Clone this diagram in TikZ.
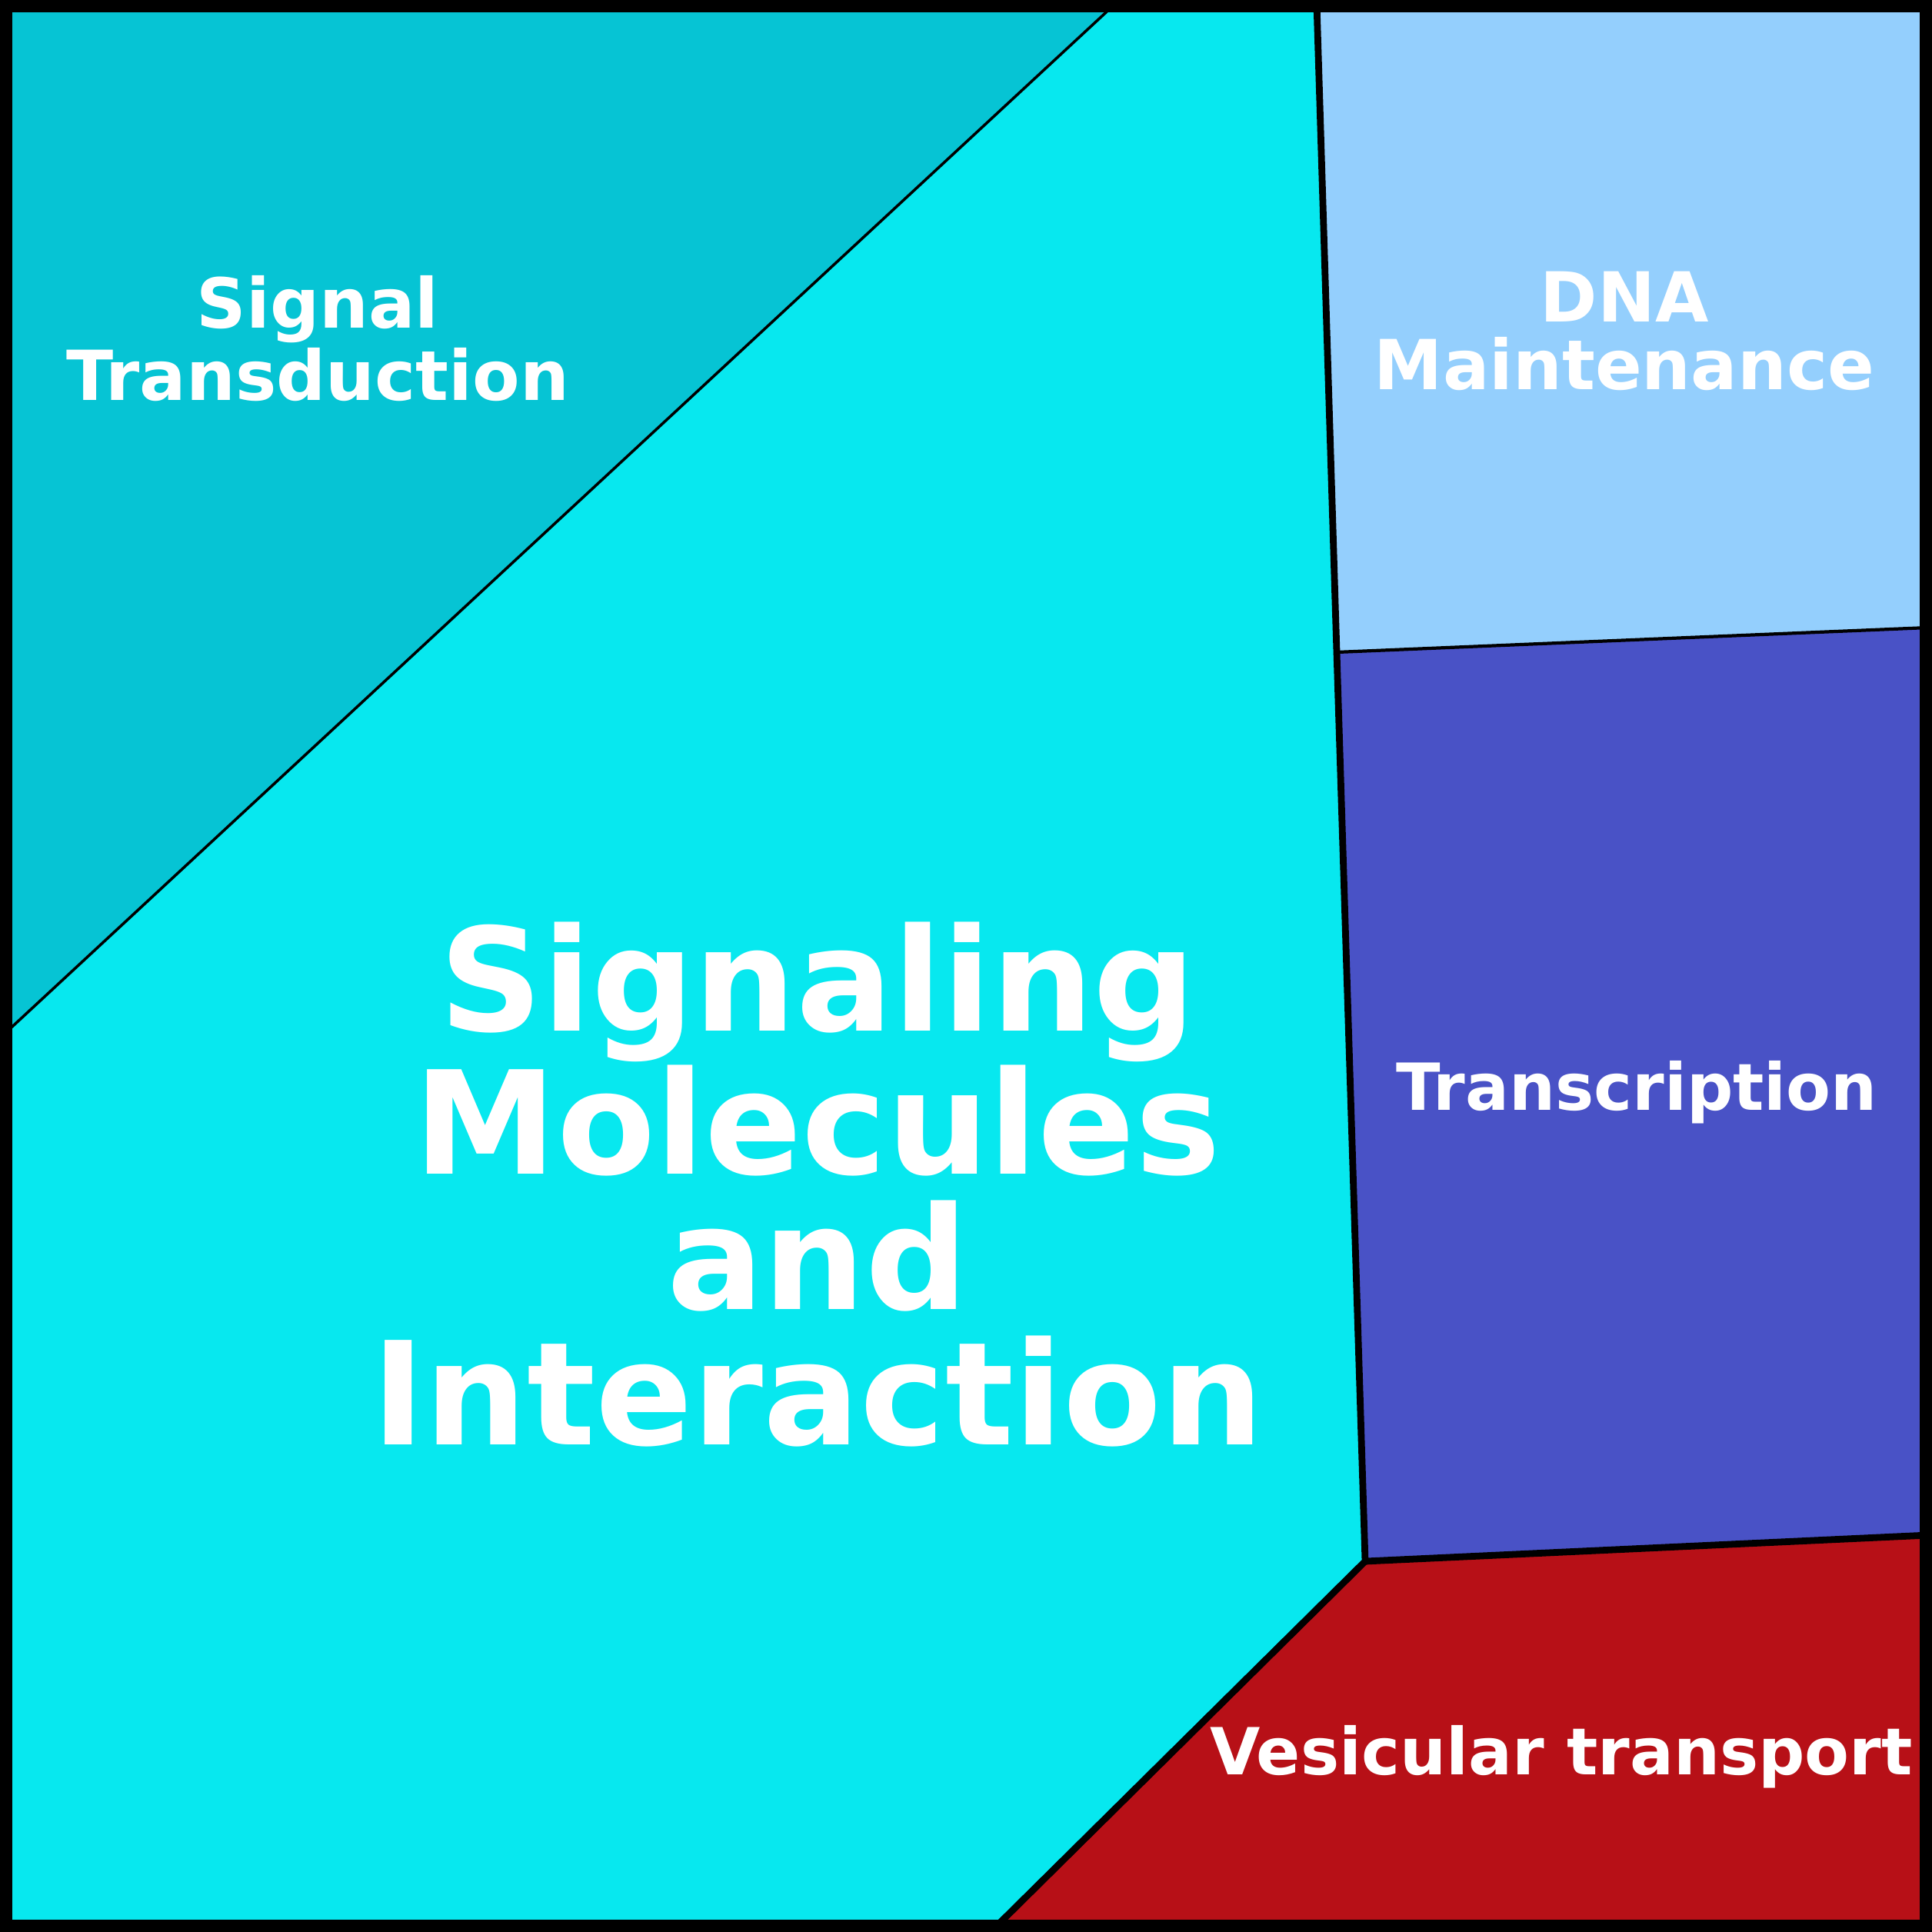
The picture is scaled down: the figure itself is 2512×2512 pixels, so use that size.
\documentclass[tikz,border=0pt]{standalone}
\usepackage{fontspec}
\setmainfont{DejaVu Sans}
\begin{document}
\begin{tikzpicture}[x=0.01cm,y=-0.01cm,
  cell/.style={draw=black,line width=1.2pt,line join=round},
  lab/.style={text=white,font=\bfseries,align=center,inner sep=0pt}]
\useasboundingbox (0,0) rectangle (2512,2512);
\definecolor{cST}{HTML}{06C4D4}
\definecolor{cSM}{HTML}{07E8EF}
\definecolor{cDNA}{HTML}{94CFFD}
\definecolor{cTR}{HTML}{4952C6}
\definecolor{cVT}{HTML}{B71017}
\coordinate (a) at (5,5); \coordinate (b) at (1450,5); \coordinate (c) at (5,1345);
\coordinate (d) at (1712,5); \coordinate (e) at (1738,848); \coordinate (f) at (1775,2030);
\coordinate (g) at (1293,2507); \coordinate (h) at (5,2507);
\coordinate (i) at (2507,5); \coordinate (j) at (2507,816); \coordinate (k) at (2507,1996);
\coordinate (l) at (2507,2507);
\fill[cST] (a)--(b)--(c)--cycle;
\fill[cSM] (b)--(d)--(e)--(f)--(g)--(h)--(c)--cycle;
\fill[cDNA] (d)--(i)--(j)--(e)--cycle;
\fill[cTR] (e)--(j)--(k)--(f)--cycle;
\fill[cVT] (f)--(k)--(l)--(g)--cycle;
\draw[line width=1pt] (b)--(c);
\draw[cell,line width=2.5pt] (d)--(e)--(f)--(g);
\draw[cell] (e)--(j);
\draw[cell,line width=2.5pt] (f)--(k);
\draw[line width=6pt] (a) rectangle (2507,2507);
\node[lab,font=\bfseries\fontsize{25.5}{26.5}\selectfont] (st) at (413,440) {Signal\\Transduction};
\node[lab,font=\bfseries\fontsize{25.5}{25}\selectfont] (dna) at (2112,430) {DNA\\Maintenance};
\node[lab,font=\bfseries\fontsize{24}{25}\selectfont] (tr) at (2128,1420) {Transcription};
\node[lab,font=\bfseries\fontsize{24}{25}\selectfont] (vt) at (2030,2284) {Vesicular transport};
\node[lab,font=\bfseries\fontsize{53}{50}\selectfont] (sm) at (1063,1540) {Signaling\\Molecules\\and\\Interaction};
\end{tikzpicture}
\end{document}
